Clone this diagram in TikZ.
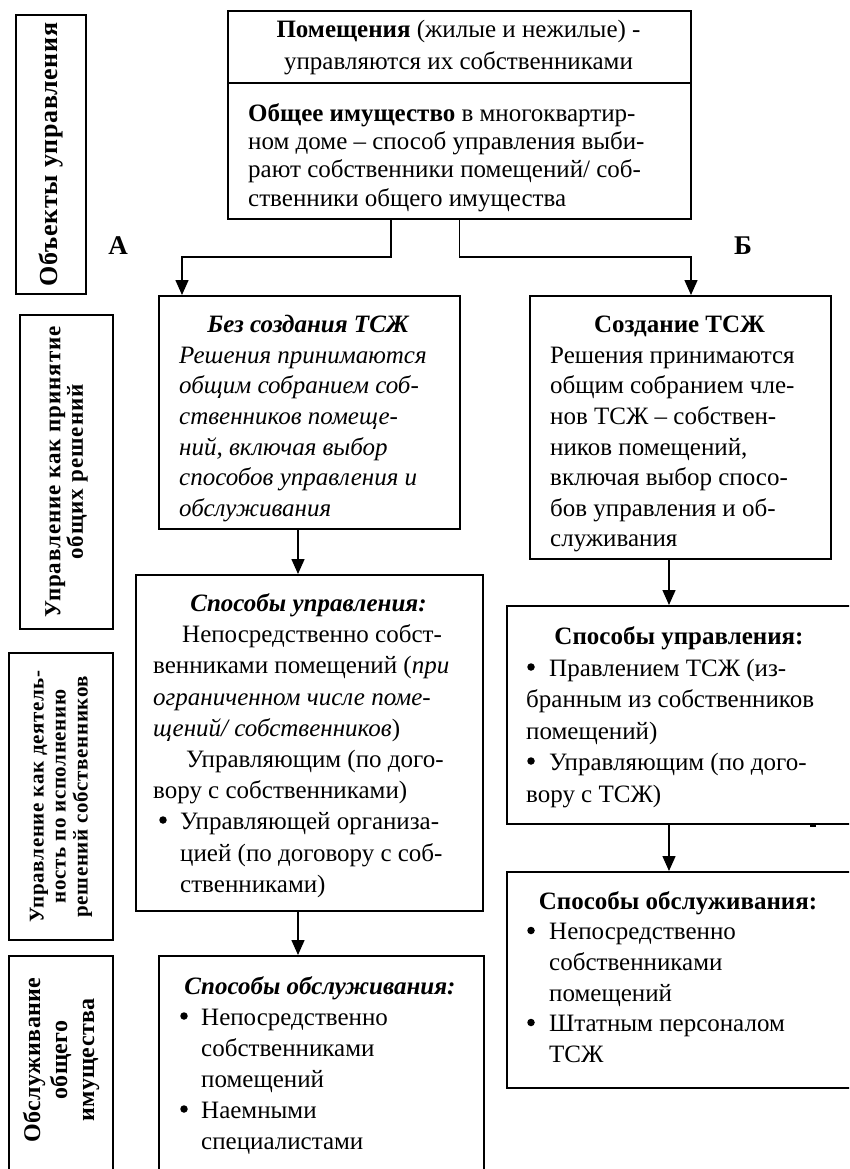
\documentclass[tikz,border=0pt]{standalone}
\usepackage{fontspec}
\setmainfont{Liberation Serif}
\usetikzlibrary{arrows.meta}
\begin{document}
\begin{tikzpicture}[x=1pt,y=-1pt,
  box/.style={draw, line width=2pt, inner sep=0, anchor=north west},
  ln/.style={inner sep=0, font=\fontsize{25}{30}\selectfont},
  lab/.style={inner sep=0, rotate=90, align=center},
  bul/.style={circle, fill, inner sep=0, minimum size=7.5pt},
  arr/.style={line width=1.5pt, -{Triangle[length=15pt,width=13pt]}}]
\useasboundingbox (0,0) rectangle (849,1169);
\begin{scope}
\clip (0,0) rectangle (849,1169);
% left column boxes
\node[box, minimum width=70pt, minimum height=279pt] (l1) at (15,14) {};
\node[box, minimum width=93pt, minimum height=314pt] (l2) at (19,314) {};
\node[box, minimum width=104pt, minimum height=287pt] (l3) at (8,652) {};
\node[box, minimum width=104pt, minimum height=235pt] (l4) at (8,955) {};
\node[lab, font=\fontsize{26}{28}\selectfont\bfseries\addfontfeature{LetterSpace=2.5}] (l1t) at (l1.center) {Объекты управления};
\node[lab, font=\fontsize{23}{21}\selectfont\bfseries\addfontfeature{LetterSpace=4}] (l2t) at (l2.center) {Управление как принятие\\общих решений};
\node[lab, font=\fontsize{21}{22}\selectfont\bfseries\addfontfeature{LetterSpace=3}] (l3t) at (l3.center) {Управление как деятель-\\ность по исполнению\\решений собственников};
\coordinate (l4c) at (61,1060);
\node[lab, font=\fontsize{24}{27}\selectfont\bfseries\addfontfeature{LetterSpace=1.5}] (l4t) at (l4c) {Обслуживание\\общего\\имущества};

% main boxes
\node[box, minimum width=463pt, minimum height=208pt] (top) at (227,10) {};
\coordinate (dv) at (0,83);
\draw[line width=2pt] (top.west |- dv) -- (top.east |- dv);
\node[box, minimum width=301pt, minimum height=233pt] (a1) at (158,295) {};
\node[box, minimum width=301pt, minimum height=263pt] (b1) at (529,295) {};
\node[box, minimum width=347pt, minimum height=336pt] (a2) at (135,574) {};
\node[box, minimum width=325pt, minimum height=235pt] (a3) at (158,955) {};
\node[box, minimum width=349pt, minimum height=218pt] (b2) at (506,605) {};
\node[box, minimum width=349pt, minimum height=216pt] (b3) at (506,871) {};
\fill (810,823) rectangle (816,826.5);

% connectors
\coordinate (jA) at (182,257);
\coordinate (jB) at (691,257);
\draw[arr] ([xshift=-68.5pt]top.south) |- (jA) -- (jA |- a1.north);
\draw[arr] (top.south) |- (jB) -- (jB |- b1.north);
\draw[arr] ([xshift=-11.5pt]a1.south) -- ([xshift=-11.5pt]a1.south |- a2.north);
\draw[arr] ([xshift=-11.5pt]a2.south) -- ([xshift=-11.5pt]a2.south |- a3.north);
\draw[arr] ([xshift=-11.5pt]b1.south) -- ([xshift=-11.5pt]b1.south |- b2.north);
\draw[arr] ([xshift=-12.5pt]b2.south) -- ([xshift=-12.5pt]b2.south |- b3.north);

\node[inner sep=0, anchor=base, font=\bfseries\fontsize{27}{30}\selectfont] (lA) at (118,254) {А};
\node[inner sep=0, anchor=base, font=\bfseries\fontsize{27}{30}\selectfont] (lB) at (743,254) {Б};

% top box text
\node[ln, anchor=base] (t1) at (458.5,38) {\textbf{Помещения} (жилые и нежилые) -};
\node[ln, anchor=base] (t2) at (458.5,70) {управляются их собственниками};
\node[ln, anchor=base west] (t3) at (248,122) {\textbf{Общее имущество} в многоквартир-};
\node[ln, anchor=base west] (t4) at (248,150) {ном доме – способ управления выби-};
\node[ln, anchor=base west] (t5) at (248,178) {рают собственники помещений/ соб-};
\node[ln, anchor=base west] (t6) at (248,207) {ственники общего имущества};

% A1
\node[ln, anchor=base] (a1h) at (308.5,332) {\textbf{\textit{Без создания ТСЖ}}};
\node[ln, anchor=base west] (a1l1) at (179,363) {\textit{Решения принимаются}};
\node[ln, anchor=base west] (a1l2) at (179,393.5) {\textit{общим собранием соб-}};
\node[ln, anchor=base west] (a1l3) at (179,424) {\textit{ственников помеще-}};
\node[ln, anchor=base west] (a1l4) at (179,455) {\textit{ний, включая выбор}};
\node[ln, anchor=base west] (a1l5) at (179,485.5) {\textit{способов управления и}};
\node[ln, anchor=base west] (a1l6) at (179,516) {\textit{обслуживания}};

% B1
\node[ln, anchor=base] (b1h) at (679.5,332) {\textbf{Создание ТСЖ}};
\node[ln, anchor=base west] (b1l1) at (550,363) {Решения принимаются};
\node[ln, anchor=base west] (b1l2) at (550,393.5) {общим собранием чле-};
\node[ln, anchor=base west] (b1l3) at (550,424) {нов ТСЖ – собствен-};
\node[ln, anchor=base west] (b1l4) at (550,455) {ников помещений,};
\node[ln, anchor=base west] (b1l5) at (550,485.5) {включая выбор спосо-};
\node[ln, anchor=base west] (b1l6) at (550,516) {бов управления и об-};
\node[ln, anchor=base west] (b1l7) at (550,546.5) {служивания};

% A2
\node[ln, anchor=base] (a2h) at (308.5,611) {\textbf{\textit{Способы управления:}}};
\node[ln, anchor=base west] (a2l1) at (182,642) {Непосредственно собст-};
\node[ln, anchor=base west] (a2l2) at (153,673) {венниками помещений (\textit{при}};
\node[ln, anchor=base west] (a2l3) at (153,705) {\textit{ограниченном числе поме-}};
\node[ln, anchor=base west] (a2l4) at (153,736) {\textit{щений/ собственников})};
\node[ln, anchor=base west] (a2l5) at (186,767) {Управляющим (по дого-};
\node[ln, anchor=base west] (a2l6) at (153,798) {вору с собственниками)};
\node[bul] (a2b1) at (163,820) {};
\node[ln, anchor=base west] (a2l7) at (180,829) {Управляющей организа-};
\node[ln, anchor=base west] (a2l8) at (180,861) {цией (по договору с соб-};
\node[ln, anchor=base west] (a2l9) at (180,892) {ственниками)};

% B2
\node[ln, anchor=base] (b2h) at (679,644) {\textbf{Способы управления:}};
\node[bul] (b2b1) at (531,667) {};
\node[ln, anchor=base west] (b2l1) at (549,676) {Правлением ТСЖ (из-};
\node[ln, anchor=base west] (b2l2) at (526,707) {бранным из собственников};
\node[ln, anchor=base west] (b2l3) at (526,739) {помещений)};
\node[bul] (b2b2) at (531,761) {};
\node[ln, anchor=base west] (b2l4) at (549,770) {Управляющим (по дого-};
\node[ln, anchor=base west] (b2l5) at (526,802) {вору с ТСЖ)};

% B3
\node[ln, anchor=base] (b3h) at (678,909) {\textbf{Способы обслуживания:}};
\node[bul] (b3b1) at (531,930.5) {};
\node[ln, anchor=base west] (b3l1) at (549,939.5) {Непосредственно};
\node[ln, anchor=base west] (b3l2) at (549,970) {собственниками};
\node[ln, anchor=base west] (b3l3) at (549,1001) {помещений};
\node[bul] (b3b2) at (531,1022.5) {};
\node[ln, anchor=base west] (b3l4) at (549,1031.5) {Штатным персоналом};
\node[ln, anchor=base west] (b3l5) at (549,1062) {ТСЖ};

% A3
\node[ln, anchor=base] (a3h) at (320,994) {\textbf{\textit{Способы обслуживания:}}};
\node[bul] (a3b1) at (184,1016) {};
\node[ln, anchor=base west] (a3l1) at (201,1025) {Непосредственно};
\node[ln, anchor=base west] (a3l2) at (201,1056) {собственниками};
\node[ln, anchor=base west] (a3l3) at (201,1087) {помещений};
\node[bul] (a3b2) at (184,1109) {};
\node[ln, anchor=base west] (a3l4) at (201,1118) {Наемными};
\node[ln, anchor=base west] (a3l5) at (201,1149) {специалистами};
\end{scope}
\end{tikzpicture}
\end{document}
